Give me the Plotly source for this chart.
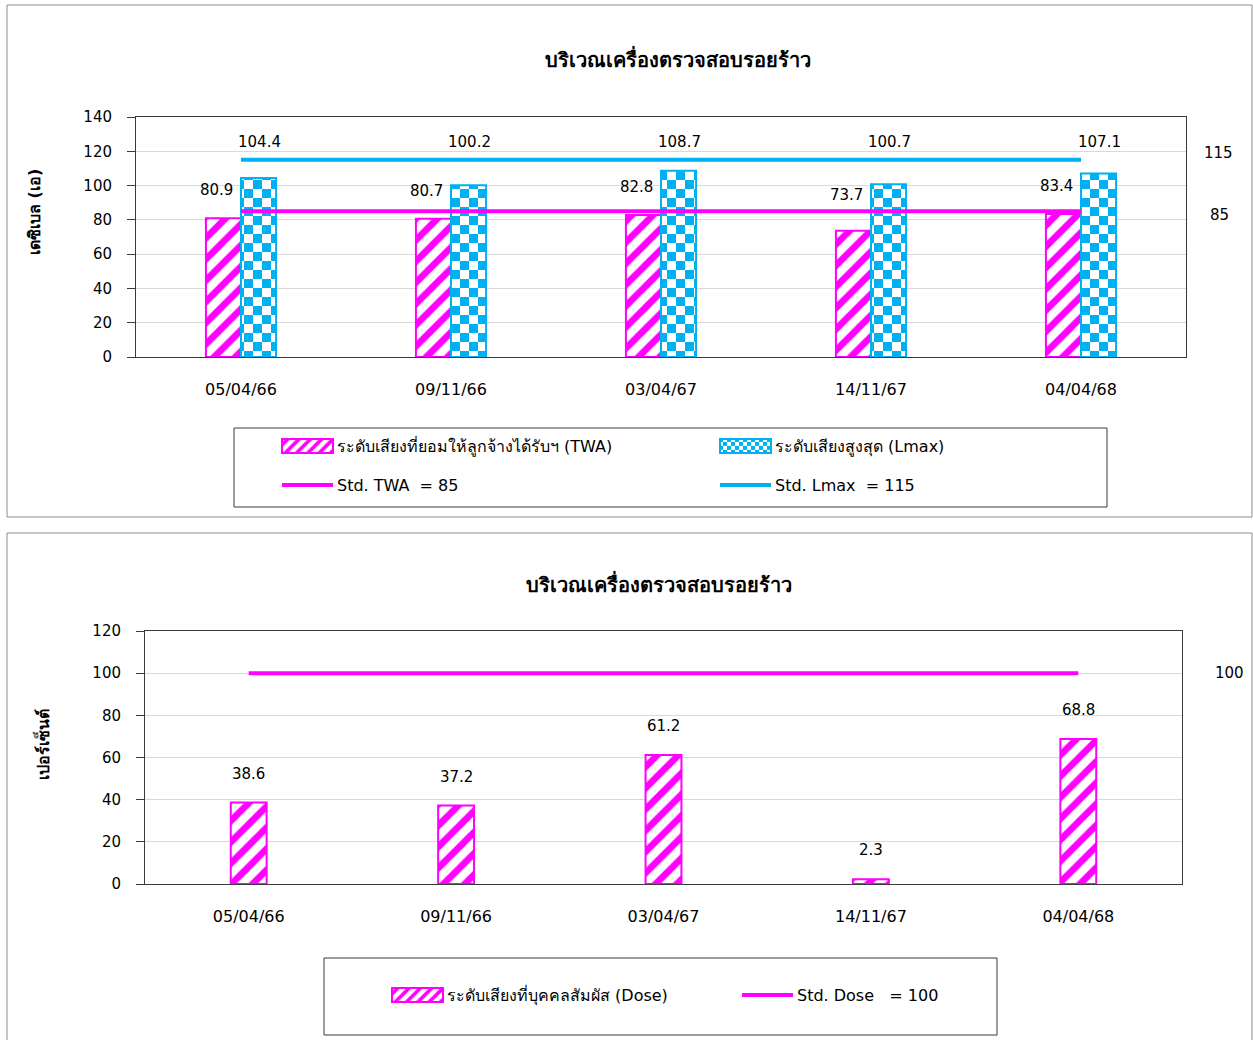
import plotly.graph_objects as go

# ---- data ----
dates = ["05/04/66", "09/11/66", "03/04/67", "14/11/67", "04/04/68"]
twa = [80.9, 80.7, 82.8, 73.7, 83.4]
lmax = [104.4, 100.2, 108.7, 100.7, 107.1]
dose = [38.6, 37.2, 61.2, 2.3, 68.8]
std_twa = 85
std_lmax = 115
std_dose = 100

title_text = "บริเวณเครื่องตรวจสอบรอยร้าว"
ytitle_top = "เดซิเบล (เอ)"
ytitle_bottom = "เปอร์เซ็นต์"
name_twa = "ระดับเสียงที่ยอมให้ลูกจ้างได้รับฯ (TWA)"
name_lmax = "ระดับเสียงสูงสุด (Lmax)"
name_std_twa = "Std. TWA\u00a0\u00a0= 85"
name_std_lmax = "Std. Lmax\u00a0\u00a0= 115"
name_dose = "ระดับเสียงที่บุคคลสัมผัส (Dose)"
name_std_dose = "Std. Dose\u00a0\u00a0\u00a0= 100"

# ---- styling ----
W, H = 1253, 1040
MAGENTA = "#FF00FF"
CYAN = "#00B0F0"
FONT = "'DejaVu Sans', Tahoma, 'Noto Sans', sans-serif"
AXIS_COLOR = "#3a3a3a"
GRID_COLOR = "#d9d9d9"

# vertical lift (px) of the TWA value labels above their bars
twa_label_lift = [28, 28, 28, 36, 28]


def px_x(v):
    return v / W


def px_y(v):
    return 1 - v / H


fig = go.Figure()

stripe = dict(shape="/", fgcolor=MAGENTA, bgcolor="white", size=15,
              solidity=0.45, fgopacity=1)

# ---- upper chart: TWA / Lmax ----
fig.add_trace(go.Bar(
    x=dates, y=twa, name=name_twa, xaxis="x", yaxis="y", legend="legend",
    width=0.167, offset=-0.167,
    marker=dict(color="white", line=dict(color=MAGENTA, width=2), pattern=stripe),
))
fig.add_trace(go.Bar(
    x=dates, y=lmax, name=name_lmax, xaxis="x", yaxis="y", legend="legend",
    width=0.167, offset=0,
    marker=dict(color="white", line=dict(color=CYAN, width=2),
                pattern=dict(shape="+", fgcolor=CYAN, bgcolor="white",
                             size=18, solidity=0.5, fgopacity=1)),
))
fig.add_trace(go.Scatter(
    x=dates, y=[std_twa] * len(dates), name=name_std_twa, mode="lines",
    xaxis="x", yaxis="y", legend="legend3",
    line=dict(color=MAGENTA, width=4),
))
fig.add_trace(go.Scatter(
    x=dates, y=[std_lmax] * len(dates), name=name_std_lmax, mode="lines",
    xaxis="x", yaxis="y", legend="legend3",
    line=dict(color=CYAN, width=4),
))

# ---- lower chart: Dose ----
fig.add_trace(go.Bar(
    x=dates, y=dose, name=name_dose, xaxis="x2", yaxis="y2", legend="legend2",
    width=0.173, offset=-0.0865,
    marker=dict(color="white", line=dict(color=MAGENTA, width=2), pattern=stripe),
))
fig.add_trace(go.Scatter(
    x=dates, y=[std_dose] * len(dates), name=name_std_dose, mode="lines",
    xaxis="x2", yaxis="y2", legend="legend2",
    line=dict(color=MAGENTA, width=4),
))

annotations = []
label_font = dict(family=FONT, size=15, color="black")
centered = dict(showarrow=False, xanchor="center", yanchor="middle")

# value labels
for d, v, lift in zip(dates, twa, twa_label_lift):
    annotations.append(dict(x=d, y=v, xref="x", yref="y", text=f"{v:.1f}",
                            xshift=-25, yshift=lift, font=label_font, **centered))
for d, v in zip(dates, lmax):
    annotations.append(dict(x=d, y=std_lmax, xref="x", yref="y", text=f"{v:.1f}",
                            xshift=18, yshift=18, font=label_font, **centered))
for d, v in zip(dates, dose):
    annotations.append(dict(x=d, y=v, xref="x2", yref="y2", text=f"{v:.1f}",
                            yshift=29, font=label_font, **centered))

# standard values beside the plot area
annotations.append(dict(x=px_x(1218), y=std_lmax, xref="paper", yref="y",
                        text=str(std_lmax), yshift=7, font=label_font, **centered))
annotations.append(dict(x=px_x(1219), y=std_twa, xref="paper", yref="y",
                        text=str(std_twa), yshift=-4, font=label_font, **centered))
annotations.append(dict(x=px_x(1229), y=std_dose, xref="paper", yref="y2",
                        text=str(std_dose), font=label_font, **centered))

# titles
title_font = dict(family=FONT, size=20, color="black")
annotations.append(dict(x=px_x(678), y=px_y(58), xref="paper", yref="paper",
                        text=f"<b>{title_text}</b>", font=title_font, **centered))
annotations.append(dict(x=px_x(659), y=px_y(583), xref="paper", yref="paper",
                        text=f"<b>{title_text}</b>", font=title_font, **centered))

# y axis titles
yt_font = dict(family=FONT, size=16, color="black")
annotations.append(dict(x=px_x(35), y=px_y(212), xref="paper", yref="paper",
                        text=f"<b>{ytitle_top}</b>", textangle=-90,
                        font=yt_font, **centered))
annotations.append(dict(x=px_x(42), y=px_y(745), xref="paper", yref="paper",
                        text=f"<b>{ytitle_bottom}</b>", textangle=-90,
                        font=yt_font, **centered))

# frames around each chart and its legend
shapes = []
for (x0, y0, x1, y1) in [(7, 5, 1252, 517), (7, 533, 1252, 1045)]:
    shapes.append(dict(type="rect", xref="paper", yref="paper",
                       x0=px_x(x0), x1=px_x(x1), y0=px_y(y1), y1=px_y(y0),
                       line=dict(color="#8c8c8c", width=1), layer="below"))
for (x0, y0, x1, y1) in [(234, 428, 1107, 507), (324, 958, 997, 1035)]:
    shapes.append(dict(type="rect", xref="paper", yref="paper",
                       x0=px_x(x0), x1=px_x(x1), y0=px_y(y1), y1=px_y(y0),
                       line=dict(color="#3a3a3a", width=1), layer="below"))

ytick_font = dict(family=FONT, size=15, color="black")
xtick_font = dict(family=FONT, size=16, color="black")


def xaxis(domain, anchor):
    return dict(domain=domain, anchor=anchor, type="category",
                showline=True, linecolor=AXIS_COLOR, linewidth=1, mirror=True,
                ticks="", tickfont=xtick_font, ticklabelstandoff=18,
                showgrid=False, fixedrange=True, automargin=False)


def yaxis(domain, anchor, rng):
    return dict(domain=domain, anchor=anchor, range=rng, dtick=20,
                showline=True, linecolor=AXIS_COLOR, linewidth=1, mirror=True,
                ticks="outside", ticklen=8, tickcolor=AXIS_COLOR,
                tickfont=ytick_font, ticklabelstandoff=12,
                showgrid=True, gridcolor=GRID_COLOR, gridwidth=1,
                zeroline=False, fixedrange=True, automargin=False)


legend_font = dict(family=FONT, size=16, color="black")
# itemwidth 46 -> label starts 56 px from the entry origin
legend_common = dict(orientation="h", xanchor="left", yanchor="middle",
                     bgcolor="rgba(0,0,0,0)", borderwidth=0, font=legend_font,
                     entrywidthmode="pixels", traceorder="normal", itemwidth=46)

fig.update_layout(
    width=W, height=H,
    margin=dict(l=0, r=0, t=0, b=0, autoexpand=False),
    paper_bgcolor="white", plot_bgcolor="white",
    barmode="group",
    showlegend=True,
    xaxis=xaxis([px_x(136), px_x(1186)], "y"),
    yaxis=yaxis([px_y(357), px_y(117)], "x", [0, 140]),
    xaxis2=xaxis([px_x(145), px_x(1182)], "y2"),
    yaxis2=yaxis([px_y(884), px_y(631)], "x2", [0, 120]),
    legend=dict(x=px_x(281), y=px_y(446), entrywidth=377, **legend_common),
    legend3=dict(x=px_x(281), y=px_y(485), entrywidth=377, **legend_common),
    legend2=dict(x=px_x(391), y=px_y(995), entrywidth=289, **legend_common),
    annotations=annotations,
    shapes=shapes,
    font=dict(family=FONT, color="black"),
)

# Checkerboard tile for the cyan fill, and wide legend swatches.
finish_js = """
var gd = document.getElementById('{plot_id}');
function finishStyle() {
  var ns = 'http://www.w3.org/2000/svg';
  document.querySelectorAll('pattern').forEach(function (p) {
    if (p.getAttribute('data-checker')) return;
    var html = p.innerHTML.toLowerCase();
    if (html.indexOf('rgb(0, 176, 240)') < 0 && html.indexOf('#00b0f0') < 0) return;
    var w = parseFloat(p.getAttribute('width'));
    var c = w / 2;
    while (p.firstChild) p.removeChild(p.firstChild);
    var cells = [[0, 0, w, w, '#ffffff'], [0, 0, c, c, '#00B0F0'], [c, c, c, c, '#00B0F0']];
    cells.forEach(function (r) {
      var e = document.createElementNS(ns, 'rect');
      e.setAttribute('x', r[0]); e.setAttribute('y', r[1]);
      e.setAttribute('width', r[2]); e.setAttribute('height', r[3]);
      e.setAttribute('fill', r[4]);
      e.setAttribute('shape-rendering', 'crispEdges');
      p.appendChild(e);
    });
    p.setAttribute('data-checker', '1');
  });
  gd.querySelectorAll('g.legendpoints path').forEach(function (b) {
    var d = b.getAttribute('d') || '';
    if (d.indexOf('H-6V-6H6') >= 0 || d.indexOf('M1,-7') === 0) {
      b.setAttribute('transform', 'translate(0,0)');
      b.setAttribute('d', 'M1,-7H52V7H1Z');
    }
  });
  gd.querySelectorAll('g.legendlines path.js-line').forEach(function (l) {
    l.setAttribute('d', 'M1,0h51');
  });
}
finishStyle();
gd.on('plotly_afterplot', finishStyle);
var runs = 0;
var timer = setInterval(function () {
  finishStyle();
  runs += 1;
  if (runs > 40) clearInterval(timer);
}, 100);
"""

fig.write_html("out.html", post_script=finish_js,
               config=dict(displayModeBar=False, staticPlot=True))
